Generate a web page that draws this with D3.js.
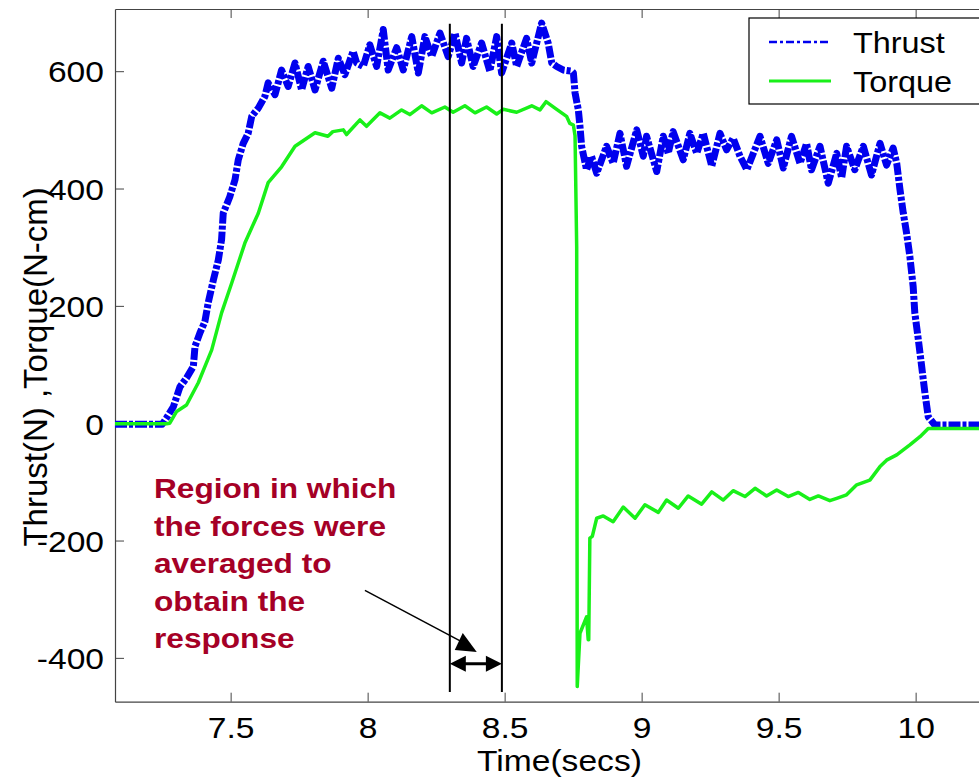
<!DOCTYPE html>
<html>
<head>
<meta charset="utf-8">
<script src="https://cdn.jsdelivr.net/npm/d3@7"></script>
<style>
  body { margin: 0; background: #fff; }
  svg text { font-family: "Liberation Sans", Arial, sans-serif; }
</style>
</head>
<body>
<svg id="chart" width="979" height="782"></svg>
<script>
// time (secs), value
var thrust = [
  [7.078,-2],[7.250,-2],[7.266,9],[7.291,28],[7.315,62],[7.339,77],[7.364,97],[7.370,131],
  [7.388,154],[7.406,173],[7.418,205],[7.437,244],[7.455,278],[7.467,313],[7.473,358],[7.497,386],
  [7.516,415],[7.528,449],[7.546,477],[7.564,494],[7.577,523],[7.601,537],[7.625,557],[7.637,580],
  [7.662,560],[7.686,602],[7.710,574],[7.735,614],[7.759,568],[7.783,608],[7.808,568],[7.838,617],
  [7.869,571],[7.893,622],[7.917,594],[7.947,634],[7.960,614],[7.984,608],[8.008,645],[8.033,608],
  [8.057,671],[8.075,602],[8.106,640],[8.130,602],[8.161,659],[8.185,597],[8.209,659],[8.234,625],
  [8.264,665],[8.294,625],[8.319,665],[8.343,614],[8.361,656],[8.385,608],[8.416,648],[8.446,600],
  [8.471,659],[8.489,597],[8.526,648],[8.544,608],[8.580,656],[8.599,614],[8.635,682],[8.659,648],
  [8.672,614],[8.690,608],[8.714,602],[8.745,600],[8.751,597],[8.757,563],[8.769,534],[8.775,506],
  [8.781,472],[8.799,432],[8.817,455],[8.836,426],[8.872,472],[8.896,443],[8.921,494],[8.945,438],
  [8.982,500],[9.006,455],[9.018,489],[9.055,429],[9.079,489],[9.097,460],[9.115,497],[9.152,449],
  [9.176,494],[9.201,460],[9.225,494],[9.256,438],[9.286,494],[9.310,466],[9.334,486],[9.359,455],
  [9.384,432],[9.432,489],[9.462,443],[9.493,483],[9.517,435],[9.547,489],[9.578,443],[9.602,477],
  [9.620,432],[9.651,472],[9.681,409],[9.712,460],[9.730,418],[9.748,472],[9.778,432],[9.809,472],
  [9.839,423],[9.870,477],[9.894,440],[9.918,469],[9.931,443],[9.943,398],[9.955,358],[9.967,324],
  [9.979,284],[9.991,233],[9.997,188],[10.010,142],[10.022,97],[10.034,51],[10.046,11],[10.070,-3],
  [10.300,-3]
];

var torque = [
  [7.078,-1],[7.266,-1],[7.278,0],[7.303,20],[7.339,31],[7.382,69],[7.431,125],[7.467,188],
  [7.504,239],[7.552,307],[7.601,358],[7.637,410],[7.686,437],[7.735,472],[7.808,495],[7.855,489],
  [7.873,497],[7.911,500],[7.923,492],[7.972,517],[7.996,506],[8.045,529],[8.081,520],[8.124,534],
  [8.154,526],[8.197,541],[8.234,529],[8.282,539],[8.312,530],[8.355,541],[8.392,529],[8.434,539],
  [8.471,527],[8.495,535],[8.544,530],[8.599,541],[8.629,534],[8.651,548],[8.690,535],[8.726,523],
  [8.738,511],[8.751,508],[8.757,490],[8.763,300],[8.765,-449],[8.775,-358],[8.799,-330],[8.805,-369],
  [8.807,-369],[8.811,-196],[8.820,-193],[8.836,-162],[8.860,-158],[8.896,-168],[8.933,-143],[8.976,-162],
  [9.012,-139],[9.061,-152],[9.091,-131],[9.134,-145],[9.170,-124],[9.219,-138],[9.256,-117],[9.298,-131],
  [9.334,-115],[9.377,-125],[9.414,-111],[9.456,-124],[9.493,-114],[9.535,-125],[9.572,-118],[9.614,-130],
  [9.645,-124],[9.687,-132],[9.712,-128],[9.748,-122],[9.785,-105],[9.833,-97],[9.870,-74],[9.894,-63],
  [9.931,-54],[9.979,-37],[10.016,-23],[10.046,-9],[10.300,-9]
];

var xTicks = [7.5, 8, 8.5, 9, 9.5, 10];
var yTicks = [-400, -200, 0, 200, 400, 600];
var regionTimes = [8.3, 8.49];   // averaging window
var seriesNames = ["Thrust", "Torque"];
var seriesColors = ["#0000ee", "#19f019"];
var noteLines = ["Region in which", "the forces were", "averaged to", "obtain the", "response"];

var svg = d3.select("#chart");
var plot = {left: 115, top: 9, bottom: 701.7};

var x = d3.scaleLinear().domain([7.078, 10.3]).range([plot.left, plot.left + 3.222 * 274]);
var y = d3.scaleLinear().domain([-474.7, 706]).range([plot.bottom, plot.top]);

svg.append("defs").append("clipPath").attr("id", "clip")
  .append("rect")
  .attr("x", plot.left).attr("y", plot.top)
  .attr("width", 979 - plot.left).attr("height", plot.bottom - plot.top);

// plain hyphen minus like the original figure
var fmt = function(d){ return String(d); };

// frame: bottom, left, top
var axisColor = "#444";
var xAxis = d3.axisBottom(x).tickValues(xTicks).tickSizeInner(-9).tickSizeOuter(0).tickFormat(fmt);
var gx = svg.append("g").attr("transform", "translate(0," + plot.bottom + ")").call(xAxis);
gx.select(".domain").attr("stroke", axisColor).attr("stroke-width", 1.2);
gx.selectAll(".tick line").attr("stroke", axisColor);
gx.selectAll(".tick text").attr("y", 0).attr("dy", 0)
  .attr("transform", "translate(0,36) scale(1.12,1)")
  .style("font-size", "30px").attr("fill", "#000");

var gxt = svg.append("g").attr("transform", "translate(0," + plot.top + ")")
  .call(d3.axisTop(x).tickValues(xTicks).tickSizeInner(-9).tickSizeOuter(0).tickFormat(""));
gxt.select(".domain").attr("stroke", axisColor).attr("stroke-width", 1.2);
gxt.selectAll(".tick line").attr("stroke", axisColor);

var yAxis = d3.axisLeft(y).tickValues(yTicks).tickSizeInner(-9).tickSizeOuter(0).tickFormat(fmt);
var gy = svg.append("g").attr("transform", "translate(" + plot.left + ",0)").call(yAxis);
gy.select(".domain").attr("stroke", axisColor).attr("stroke-width", 1.2);
gy.selectAll(".tick line").attr("stroke", axisColor);
gy.selectAll(".tick text").attr("x", 0).attr("dy", "0.36em")
  .attr("transform", "translate(-11,0) scale(1.12,1)")
  .style("font-size", "30px").attr("fill", "#000");

// axis titles
svg.append("text")
  .attr("transform", "translate(" + x(8.7) + ",771) scale(1.12,1)")
  .attr("text-anchor", "middle")
  .style("font-size", "30px")
  .text("Time(secs)");

svg.append("text")
  .attr("transform", "translate(47," + y(96) + ") rotate(-90)")
  .attr("text-anchor", "middle")
  .style("font-size", "33px")
  .text("Thrust(N) ,Torque(N-cm)");

// data lines
var line = d3.line()
  .x(function(d){ return x(d[0]); })
  .y(function(d){ return y(d[1]); });

var g = svg.append("g").attr("clip-path", "url(#clip)");

g.append("path").datum(thrust)
  .attr("d", line)
  .attr("fill", "none")
  .attr("stroke", seriesColors[0])
  .attr("stroke-width", 7)
  .attr("stroke-linejoin", "round")
  .attr("stroke-dasharray", "12,2,4,2");

g.append("path").datum(torque)
  .attr("d", line)
  .attr("fill", "none")
  .attr("stroke", seriesColors[1])
  .attr("stroke-width", 3.5)
  .attr("stroke-linejoin", "round");

// region lines
svg.selectAll(".region").data(regionTimes)
  .enter().append("line")
  .attr("class", "region")
  .attr("x1", function(d){ return x(d); })
  .attr("x2", function(d){ return x(d); })
  .attr("y1", y(681)).attr("y2", y(-458))
  .attr("stroke", "#000").attr("stroke-width", 2);

// double arrow between the region lines
var ay = y(-410);
var x0 = x(regionTimes[0]), x1 = x(regionTimes[1]);
svg.append("line")
  .attr("x1", x0 + 10).attr("x2", x1 - 10)
  .attr("y1", ay).attr("y2", ay)
  .attr("stroke", "#000").attr("stroke-width", 3);
svg.append("path")
  .attr("d", "M" + x0 + "," + ay + "l16,-8l0,16z M" + x1 + "," + ay + "l-16,-8l0,16z")
  .attr("fill", "#000");

// pointer arrow
var px0 = x(7.99), py0 = y(-285);
var px1 = x(8.38), py1 = y(-383);
svg.append("line")
  .attr("x1", px0).attr("y1", py0).attr("x2", px1 - 6).attr("y2", py1 - 4)
  .attr("stroke", "#000").attr("stroke-width", 1.5);
svg.append("path")
  .attr("d", "M" + (px1 - 9) + "," + (py1 - 15) + "l-8,17l22,2z")
  .attr("fill", "#000");

// annotation
svg.append("g").selectAll("text").data(noteLines)
  .enter().append("text")
  .attr("transform", function(d, i){ return "translate(154," + (498 + i * 37.5) + ") scale(1.13,1)"; })
  .style("font-size", "28px")
  .style("font-weight", "bold")
  .attr("fill", "#a50026")
  .text(function(d){ return d; });

// legend
var lg = svg.append("g").attr("transform", "translate(749,18)");
lg.append("rect")
  .attr("width", 260).attr("height", 86)
  .attr("fill", "#fff").attr("stroke", "#000").attr("stroke-width", 1.2);
lg.selectAll(".lline").data(seriesNames)
  .enter().append("line")
  .attr("x1", 20).attr("x2", 82)
  .attr("y1", function(d, i){ return 24 + i * 39; })
  .attr("y2", function(d, i){ return 24 + i * 39; })
  .attr("stroke", function(d, i){ return seriesColors[i]; })
  .attr("stroke-width", function(d, i){ return i == 0 ? 2.5 : 3; })
  .attr("stroke-dasharray", function(d, i){ return i == 0 ? "8,3,3,3" : null; });
lg.selectAll(".ltext").data(seriesNames)
  .enter().append("text")
  .attr("transform", function(d, i){ return "translate(104," + (35 + i * 39) + ") scale(1.08,1)"; })
  .style("font-size", "30px")
  .text(function(d){ return d; });
</script>
</body>
</html>
